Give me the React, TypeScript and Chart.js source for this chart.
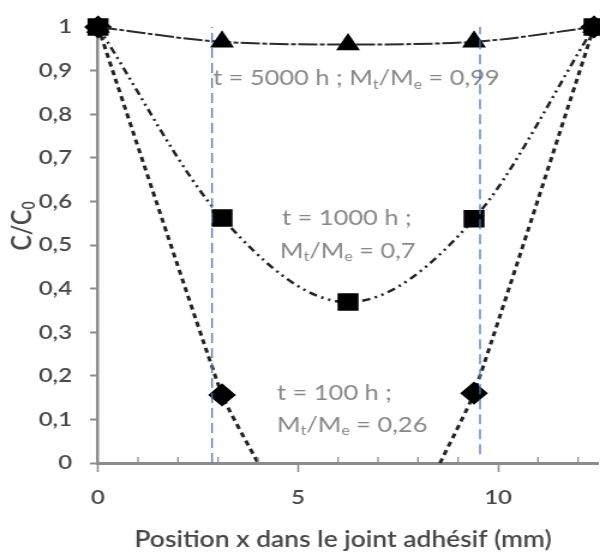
import React, { useEffect, useRef } from "react";
import { Chart, registerables } from "chart.js";

Chart.register(...registerables);

// ---- data ----
const positions = [0, 3.1, 6.25, 9.4, 12.4];
const conc5000 = [1, 0.966, 0.96, 0.966, 1];
const conc1000 = [1, 0.562, 0.369, 0.56, 1];
const positions100 = [0, 3.1, 4.0, 6.25, 8.55, 9.4, 12.4];
const conc100: (number | null)[] = [1, 0.156, 0, null, 0, 0.16, 1];
const marker100 = [true, true, false, false, false, true, true];
const jointEdges = [2.85, 9.55];
const jointTop = [1, 1];
const jointBottom = [0, 0.02];
const xTickValues = [0, 1, 2, 3, 4, 5, 6, 7, 8, 9, 10, 11, 12];
const xTickLabels = [0, 5, 10];
const yTickValues = [0, 0.1, 0.2, 0.3, 0.4, 0.5, 0.6, 0.7, 0.8, 0.9, 1];

const xTitle = "Position x dans le joint adhésif (mm)";

type Part = [string, boolean];
const annotations: { x: number; y: number; parts: Part[] }[] = [
  { x: 2.875, y: 0.882, parts: [["t = 5000 h ; M", false], ["t", true], ["/M", false], ["e", true], [" = 0,99", false]] },
  { x: 4.6, y: 0.562, parts: [["t = 1000 h ;", false]] },
  { x: 4.55, y: 0.486, parts: [["M", false], ["t", true], ["/M", false], ["e", true], [" = 0,7", false]] },
  { x: 4.475, y: 0.16, parts: [["t = 100 h ;", false]] },
  { x: 4.475, y: 0.087, parts: [["M", false], ["t", true], ["/M", false], ["e", true], [" = 0,26", false]] },
];

// the reference picture is horizontally stretched: draw narrower, stretch with CSS
const STRETCH = 1.2;
const OUT_W = 600;
const OUT_H = 552;
const W = OUT_W / STRETCH;

const FONT = "Lato, 'Open Sans', sans-serif";
const AXIS_GRAY = "#8c8c8c";
const TEXT_DARK = "#484848";
const ANNOT_GRAY = "#888888";

function drawParts(ctx: CanvasRenderingContext2D, x: number, y: number, parts: Part[], size: number, weight = "normal") {
  let cx = x;
  for (const [txt, sub] of parts) {
    const s = sub ? size * 0.62 : size;
    ctx.font = `${weight} ${s}px ${FONT}`;
    ctx.fillText(txt, cx, sub ? y + size * 0.28 : y);
    cx += ctx.measureText(txt).width;
  }
}

const extrasPlugin = {
  id: "extras",
  beforeDatasetsDraw(chart: any) {
    const ctx: CanvasRenderingContext2D = chart.ctx;
    const xs = chart.scales.x;
    const ys = chart.scales.y;
    ctx.save();
    ctx.fillStyle = ANNOT_GRAY;
    ctx.textAlign = "left";
    ctx.textBaseline = "middle";
    for (const a of annotations) {
      drawParts(ctx, xs.getPixelForValue(a.x), ys.getPixelForValue(a.y), a.parts, 21.2, "normal");
    }
    ctx.restore();
  },
  afterDraw(chart: any) {
    const ctx: CanvasRenderingContext2D = chart.ctx;
    const xs = chart.scales.x;
    const area = chart.chartArea;
    ctx.save();
    // minor ticks on x axis (inside)
    ctx.strokeStyle = AXIS_GRAY;
    ctx.lineWidth = 1.3;
    for (const v of xTickValues) {
      if (xTickLabels.includes(v)) continue;
      const px = xs.getPixelForValue(v);
      ctx.beginPath();
      ctx.moveTo(px, area.bottom);
      ctx.lineTo(px, area.bottom - 6);
      ctx.stroke();
    }
    // x title
    ctx.fillStyle = TEXT_DARK;
    ctx.font = `600 22px ${FONT}`;
    ctx.textAlign = "center";
    ctx.textBaseline = "middle";
    ctx.fillText(xTitle, 343 / STRETCH, 540);
    // y title
    ctx.translate(22 / STRETCH, 226);
    ctx.rotate(-Math.PI / 2);
    ctx.textAlign = "left";
    ctx.font = `600 23px ${FONT}`;
    const w1 = ctx.measureText("C/C").width;
    ctx.font = `600 14px ${FONT}`;
    const w2 = ctx.measureText("0").width;
    drawParts(ctx, -(w1 + w2) / 2, 0, [["C/C", false], ["0", true]], 23, "600");
    ctx.restore();
  },
};

export default function App() {
  const ref = useRef<HTMLCanvasElement | null>(null);
  useEffect(() => {
    if (!ref.current) return;
    const pts = (xs: number[], ys: (number | null)[]) => xs.map((x, i) => ({ x, y: ys[i] }));
    const chart = new Chart(ref.current, {
      type: "line",
      data: {
        datasets: [
          ...jointEdges.map((x, i) => ({
            data: [{ x, y: jointBottom[i] }, { x, y: jointTop[i] }],
            borderColor: "#4a78bd",
            borderWidth: 1.3,
            borderDash: [10, 5],
            pointRadius: 0,
            clip: false as any,
          })),
          {
            data: pts(positions, conc5000),
            borderColor: "#2a2a2a",
            borderWidth: 2,
            borderDash: [16, 2, 4, 2],
            cubicInterpolationMode: "monotone",
            pointStyle: "triangle",
            pointRadius: 9.5,
            pointBackgroundColor: "#000",
            pointBorderColor: "#000",
            clip: false as any,
          },
          {
            data: pts(positions, conc1000),
            borderColor: "#222",
            borderWidth: 2.5,
            borderDash: [7, 4, 2, 4, 2, 4],
            cubicInterpolationMode: "monotone",
            pointStyle: "rect",
            pointRadius: 10.6,
            pointBackgroundColor: "#000",
            pointBorderColor: "#000",
            clip: false as any,
          },
          {
            data: pts(positions100, conc100),
            borderColor: "#222",
            borderWidth: 3,
            borderDash: [5, 4],
            tension: 0.15,
            spanGaps: false,
            pointStyle: "rectRot",
            pointRadius: marker100.map((m) => (m ? 9.5 : 0)),
            pointBackgroundColor: "#000",
            pointBorderColor: "#000",
            clip: false as any,
          },
        ],
      },
      options: {
        animation: false,
        responsive: false,
        events: [],
        layout: { autoPadding: false, padding: { left: 0, right: (OUT_W - 598) / STRETCH, top: 25, bottom: 0 } },
        plugins: { legend: { display: false }, tooltip: { enabled: false } },
        scales: {
          x: {
            type: "linear",
            min: 0,
            max: 12.5,
            afterFit: (s: any) => { s.height = OUT_H - 463; s.paddingLeft = 0; s.paddingRight = 0; },
            afterBuildTicks: (s: any) => { s.ticks = xTickValues.map((v) => ({ value: v })); },
            ticks: {
              autoSkip: false,
              maxRotation: 0,
              padding: 14,
              color: TEXT_DARK,
              font: { family: FONT, size: 20, weight: "600" },
              callback: (v: any) => (xTickLabels.includes(Number(v)) ? String(v) : ""),
            },
            grid: {
              drawOnChartArea: false,
              drawTicks: true,
              tickLength: 9,
              tickWidth: 1.6,
              tickColor: (c: any) => (xTickLabels.includes(c.tick?.value) ? AXIS_GRAY : "rgba(0,0,0,0)"),
            },
            border: { display: true, color: AXIS_GRAY, width: 3 },
          },
          y: {
            min: 0,
            max: 1,
            afterFit: (s: any) => { s.width = 98 / STRETCH; },
            afterBuildTicks: (s: any) => { s.ticks = yTickValues.map((v) => ({ value: v })); },
            ticks: {
              padding: 18 / STRETCH,
              color: TEXT_DARK,
              font: { family: FONT, size: 20, weight: "600" },
              callback: (v: any) => String(Math.round(Number(v) * 10) / 10).replace(".", ","),
            },
            grid: {
              drawOnChartArea: false,
              drawTicks: true,
              tickLength: 8 / STRETCH,
              tickWidth: 2,
              tickColor: AXIS_GRAY,
            },
            border: { display: true, color: AXIS_GRAY, width: 2.5 },
          },
        },
      } as any,
      plugins: [extrasPlugin],
    });
    return () => chart.destroy();
  }, []);
  return (
    <div style={{ position: "absolute", left: 0, top: 0, width: OUT_W, height: OUT_H, background: "#fff", overflow: "hidden" }}>
      <div style={{ width: W, height: OUT_H, transform: `scaleX(${STRETCH})`, transformOrigin: "0 0" }}>
        <canvas ref={ref} width={W} height={OUT_H} style={{ display: "block" }} />
      </div>
    </div>
  );
}
